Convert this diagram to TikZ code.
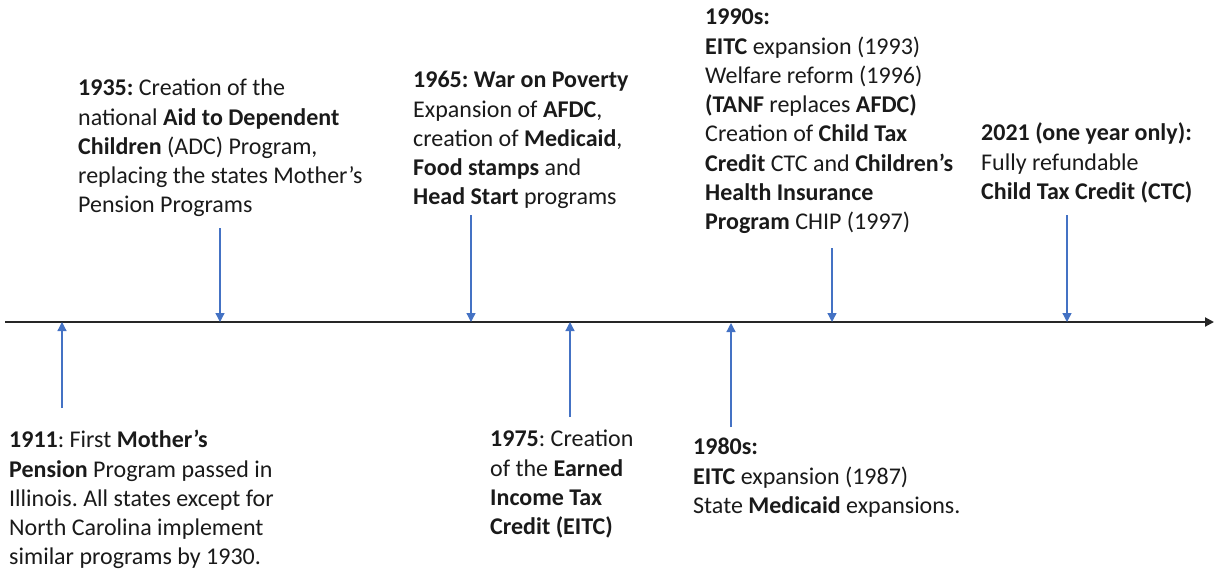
\documentclass[tikz,border=0pt]{standalone}
\usepackage{fontspec}
\setmainfont{Carlito}
\usetikzlibrary{arrows.meta}
\definecolor{txt}{RGB}{26,26,26}
\definecolor{arrblue}{RGB}{68,114,196}
\tikzset{
  label/.style={anchor=north west, inner sep=0pt, align=left, text=txt,
    font=\fontsize{24}{29.3}\selectfont\frenchspacing},
  evarrow/.style={draw=arrblue, line width=1.3pt, -{Triangle[length=9pt,width=9pt]}},
  axisline/.style={draw=black!85, line width=2pt, -{Triangle[length=9pt,width=9pt]}}
}
\begin{document}
\begin{tikzpicture}[x=1pt,y=-1pt]
\useasboundingbox (0,0) rectangle (1214,571);
% axis
\coordinate (axL) at (5,322);
\coordinate (axR) at (1214,322);
\draw[axisline] (axL) -- (axR);
% labels (y = first baseline - 20.5)
\node[label] (t1911) at (9,427) {\strut\textbf{1911}: First \textbf{Mother’s}\\\textbf{Pension} Program passed in\\Illinois. All states except for\\North Carolina implement\\similar programs by 1930.};
\node[label] (t1935) at (78,75) {\strut\textbf{1935:} Creation of the\\national \textbf{Aid to Dependent}\\\textbf{Children} (ADC) Program,\\replacing the states Mother’s\\Pension Programs};
\node[label] (t1965) at (413,67) {\strut\textbf{1965: War on Poverty}\\Expansion of \textbf{AFDC},\\creation of \textbf{Medicaid},\\\textbf{Food stamps} and\\\textbf{Head Start} programs};
\node[label] (t1975) at (490,426) {\strut\textbf{1975}: Creation\\of the \textbf{Earned}\\\textbf{Income Tax}\\\textbf{Credit (EITC)}};
\node[label] (t1980) at (693,434) {\strut\textbf{1980s:}\\\textbf{EITC} expansion (1987)\\State \textbf{Medicaid} expansions.};
\node[label] (t1990) at (705,4) {\strut\textbf{1990s:}\\\textbf{EITC} expansion (1993)\\Welfare reform (1996)\\\textbf{(TANF} replaces \textbf{AFDC)}\\Creation of \textbf{Child Tax}\\\textbf{Credit} CTC and \textbf{Children’s}\\\textbf{Health Insurance}\\\textbf{Program} CHIP (1997)};
\node[label] (t2021) at (981,120) {\strut\textbf{2021 (one year only):}\\Fully refundable\\\textbf{Child Tax Credit (CTC)}};
% arrow coordinates
\coordinate (s1911) at (62,408);  \coordinate (e1911) at (62,322);
\coordinate (s1935) at (220,228); \coordinate (e1935) at (220,322);
\coordinate (s1965) at (471,215); \coordinate (e1965) at (471,322);
\coordinate (s1975) at (570,417); \coordinate (e1975) at (570,322);
\coordinate (s1980) at (731,427); \coordinate (e1980) at (731,323);
\coordinate (s1990) at (832,248); \coordinate (e1990) at (832,322);
\coordinate (s2021) at (1067,215); \coordinate (e2021) at (1067,322);
\foreach \k in {1911,1935,1965,1975,1980,1990,2021}
  \draw[evarrow] (s\k) -- (e\k);
\end{tikzpicture}
\end{document}
